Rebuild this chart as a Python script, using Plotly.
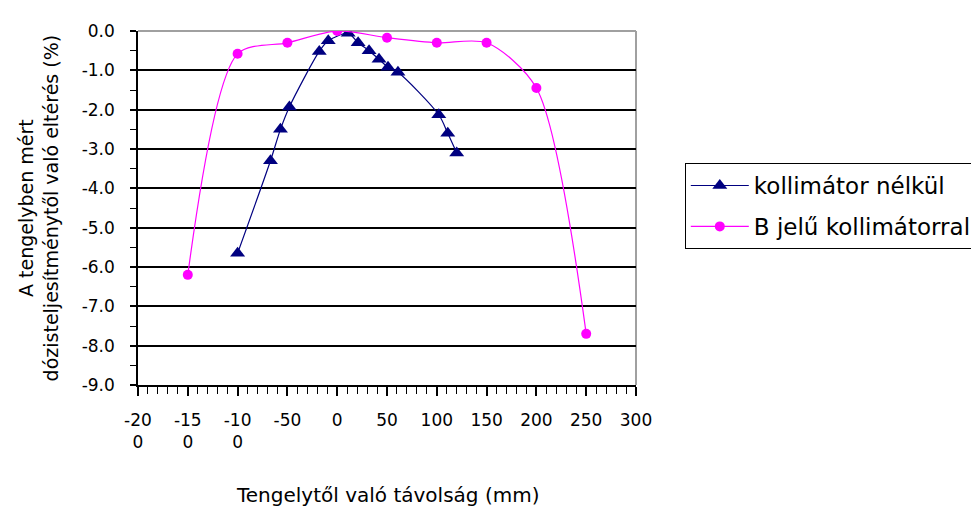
import plotly.graph_objects as go

# Series: kollimátor nélkül
x_nelkul = [-100, -67, -57, -48, -18, -9, 11, 21, 32, 42, 51, 61, 102, 111, 120]
y_nelkul = [-5.65, -3.3, -2.5, -1.93, -0.52, -0.25, -0.06, -0.3, -0.5, -0.72, -0.92, -1.05, -2.13, -2.6, -3.1]

# Series: B jelű kollimátorral
x_B = [-150, -100, -50, 0, 50, 100, 150, 200, 250]
y_B = [-6.2, -0.58, -0.3, 0.0, -0.17, -0.3, -0.3, -1.45, -7.7]

series_names = ["kollimátor nélkül", "B jelű kollimátorral"]

x_tickvals = [-200, -150, -100, -50, 0, 50, 100, 150, 200, 250, 300]
x_ticktext = ["-20<br>0", "-15<br>0", "-10<br>0", "-50", "0", "50", "100", "150", "200", "250", "300"]
y_tickvals = [0, -1, -2, -3, -4, -5, -6, -7, -8, -9]
y_ticktext = ["0.0", "-1.0", "-2.0", "-3.0", "-4.0", "-5.0", "-6.0", "-7.0", "-8.0", "-9.0"]

x_title = "Tengelytől való távolság (mm)"
y_title = "A tengelyben mért<br>dózisteljesítménytől való eltérés (%)"

FONT = "DejaVu Sans"

fig = go.Figure()
fig.add_trace(go.Scatter(
    x=x_nelkul, y=y_nelkul, name=series_names[0], legendgroup="a",
    mode="lines+markers", line=dict(color="#000080", width=1.2, shape="spline", smoothing=0.8),
    marker=dict(symbol="triangle-up", size=13, color="#000080"),
))
fig.add_trace(go.Scatter(
    x=x_B, y=y_B, name=series_names[1], legendgroup="b",
    mode="lines+markers", line=dict(color="#FF00FF", width=1.2, shape="spline", smoothing=0.8),
    marker=dict(symbol="circle", size=10, color="#FF00FF"),
))

# page body has an 8px margin: figure is 971x500 and margins shifted accordingly
fig.update_layout(
    width=971, height=500,
    margin=dict(l=130, r=343, t=23, b=123, autoexpand=False),
    paper_bgcolor="white", plot_bgcolor="white",
    font=dict(family=FONT, size=17, color="black"),
    showlegend=True,
    legend=dict(
        x=1.098, y=0.627, xanchor="left", yanchor="top",
        bordercolor="black", borderwidth=1, bgcolor="white",
        font=dict(family=FONT, size=23, color="black"),
        tracegroupgap=8, itemwidth=58,
    ),
)

fig.update_xaxes(
    range=[-200, 300], tickvals=x_tickvals, ticktext=x_ticktext,
    showgrid=False, zeroline=False,
    showline=True, linecolor="black", linewidth=1.5,
    ticks="outside", ticklen=9, tickwidth=1.5, tickcolor="black",
    ticklabelstandoff=10,
    minor=dict(dtick=10, ticks="outside", ticklen=7, tickwidth=1.2, tickcolor="black", showgrid=False),
    tickfont=dict(family=FONT, size=17),
)
fig.update_yaxes(
    range=[-9, 0], tickvals=y_tickvals, ticktext=y_ticktext,
    showgrid=True, gridcolor="black", gridwidth=1.5, zeroline=False,
    showline=True, linecolor="black", linewidth=1.5,
    ticks="outside", ticklen=6, tickwidth=1.5, tickcolor="black",
    ticklabelstandoff=12,
    minor=dict(dtick=0.5, ticks="outside", ticklen=6, tickwidth=1.2, tickcolor="black", showgrid=False),
    tickfont=dict(family=FONT, size=17),
)

# plot area border (top/right gray)
fig.add_shape(type="line", xref="paper", yref="paper", x0=0, x1=1, y0=1, y1=1,
              line=dict(color="#a0a0a0", width=2), layer="between")
fig.add_shape(type="line", xref="paper", yref="paper", x0=1, x1=1, y0=0, y1=1,
              line=dict(color="#a0a0a0", width=2), layer="between")

fig.add_annotation(text=x_title, xref="paper", yref="paper", x=0.5, y=-0.311,
                   xanchor="center", yanchor="middle", showarrow=False,
                   font=dict(family=FONT, size=20))
fig.add_annotation(text=y_title, xref="paper", yref="paper", x=-0.2, y=0.5,
                   xanchor="center", yanchor="middle", showarrow=False, textangle=-90,
                   font=dict(family=FONT, size=19))

fig.write_html("out.html")
